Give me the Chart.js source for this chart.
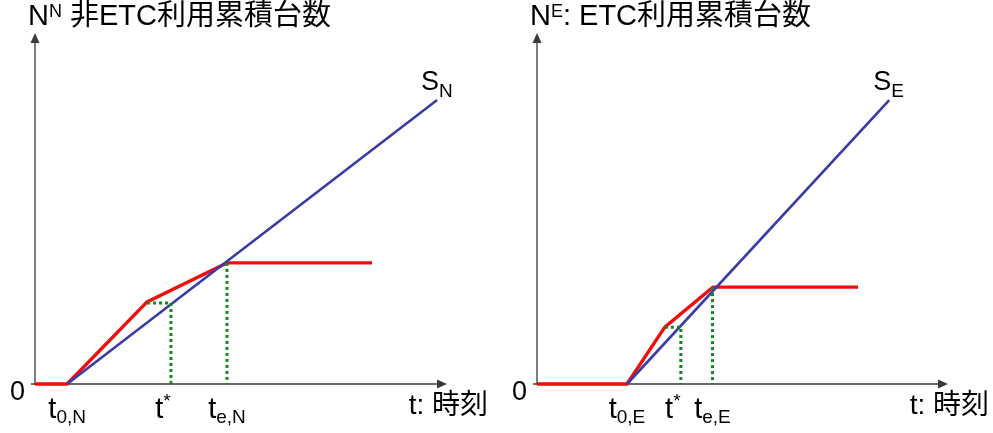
<!DOCTYPE html>
<html>
<head>
<meta charset="utf-8">
<script src="https://cdn.jsdelivr.net/npm/chart.js@4/dist/chart.umd.min.js"></script>
<style>
  html, body { margin: 0; padding: 0; background: #fff; }
  #wrap { position: relative; width: 993px; height: 433px; overflow: hidden; background: #fff; }
  #wrap canvas { position: absolute; top: 0; }
</style>
</head>
<body>
<div id="wrap">
  <canvas id="panelN" width="493" height="433" style="left:0px"></canvas>
  <canvas id="panelE" width="500" height="433" style="left:493px"></canvas>
</div>
<script>
// ---------- Non-ETC vehicles (N) ----------
const nonEtcTimes  = [0, 0.78, 2.72, 4.66, 8.18];
const nonEtcCounts = [0, 0, 2.34, 3.45, 3.45];
const supplyNTimes  = [0.78, 9.76];
const supplyNCounts = [0, 8.09];
const nonEtcStarGuideTimes  = [2.72, 3.30, 3.30];
const nonEtcStarGuideCounts = [2.31, 2.31, 0];
const nonEtcEndGuideTimes  = [4.66, 4.66];
const nonEtcEndGuideCounts = [3.45, 0];
const nonEtcTickValues = [0.78, 3.30, 4.66];
const nonEtcTickLabels = [
  { main: 't', sub: '0,N' },
  { main: 't', sup: '*' },
  { main: 't', sub: 'e,N' }
];
const nonEtcTitle = { main: 'N', sup: 'N', rest: ' 非ETC利用累積台数' };
const supplyNLabel = { main: 'S', sub: 'N' };

// ---------- ETC vehicles (E) ----------
const etcTimes  = [0, 2.19, 3.11, 4.28, 7.81];
const etcCounts = [0, 0, 1.62, 2.76, 2.76];
const supplyETimes  = [2.19, 8.57];
const supplyECounts = [0, 8.09];
const etcStarGuideTimes  = [3.11, 3.50, 3.50];
const etcStarGuideCounts = [1.62, 1.62, 0];
const etcEndGuideTimes  = [4.27, 4.27];
const etcEndGuideCounts = [2.76, 0];
const etcTickValues = [2.19, 3.50, 4.27];
const etcTickLabels = [
  { main: 't', sub: '0,E' },
  { main: 't', sup: '*' },
  { main: 't', sub: 'e,E' }
];
const etcTitle = { main: 'N', sup: 'E', rest: ': ETC利用累積台数' };
const supplyELabel = { main: 'S', sub: 'E' };

// Shared axis texts
const originLabel = '0';
const timeAxisLabel = 't: 時刻';

// ---------- styling ----------
const RED = '#f20d0d';
const BLUE = '#3b3ba6';
const GREEN = '#0f8a1f';
const AXIS = '#3a3a3a';
const FONT = "'Liberation Sans', 'Noto Sans CJK JP', sans-serif";

function toPoints(xs, ys) {
  return xs.map((x, i) => ({ x: x, y: ys[i] }));
}

// Text runs made of main / subscript / superscript pieces.
function measureRich(ctx, pieces) {
  let w = 0;
  for (const p of pieces) {
    ctx.font = p.size + 'px ' + FONT;
    w += ctx.measureText(p.text).width;
  }
  return w;
}
function drawRich(ctx, x, y, pieces) {
  let cx = x;
  ctx.textBaseline = 'alphabetic';
  ctx.textAlign = 'left';
  for (const p of pieces) {
    ctx.font = p.size + 'px ' + FONT;
    ctx.fillText(p.text, cx, y + (p.dy || 0));
    cx += ctx.measureText(p.text).width;
  }
}
function labelPieces(lbl, mainSize, subSize, subDy, supSize, supDy) {
  const pieces = [{ text: lbl.main, size: mainSize }];
  if (lbl.sub) pieces.push({ text: lbl.sub, size: subSize, dy: subDy });
  if (lbl.sup) pieces.push({ text: lbl.sup, size: supSize, dy: supDy });
  return pieces;
}

function panelDecorations(cfg) {
  return {
    id: 'panelDecorations',
    beforeDatasetsDraw(chart) {
      const ctx = chart.ctx;
      const xs = chart.scales.x, ys = chart.scales.y;
      const x0 = xs.getPixelForValue(0), x1 = xs.getPixelForValue(xs.max);
      const y0 = ys.getPixelForValue(0), y1 = ys.getPixelForValue(ys.max);
      ctx.save();
      ctx.strokeStyle = AXIS;
      ctx.fillStyle = AXIS;
      ctx.lineWidth = 1.3;
      // time axis with arrow head
      ctx.beginPath();
      ctx.moveTo(x0 - 4, y0);
      ctx.lineTo(x1 - 8, y0);
      ctx.stroke();
      ctx.beginPath();
      ctx.moveTo(x1, y0);
      ctx.lineTo(x1 - 10, y0 - 4.5);
      ctx.lineTo(x1 - 10, y0 + 4.5);
      ctx.closePath();
      ctx.fill();
      // count axis with arrow head
      ctx.beginPath();
      ctx.moveTo(x0, y0 + 1);
      ctx.lineTo(x0, y1 + 8);
      ctx.stroke();
      ctx.beginPath();
      ctx.moveTo(x0, y1);
      ctx.lineTo(x0 - 4.5, y1 + 10);
      ctx.lineTo(x0 + 4.5, y1 + 10);
      ctx.closePath();
      ctx.fill();
      ctx.restore();
    },
    afterDraw(chart) {
      const ctx = chart.ctx;
      const xs = chart.scales.x, ys = chart.scales.y;
      const x0 = xs.getPixelForValue(0), x1 = xs.getPixelForValue(xs.max);
      const y0 = ys.getPixelForValue(0);
      ctx.save();
      ctx.fillStyle = '#000';

      // origin
      ctx.font = '27px ' + FONT;
      ctx.textAlign = 'right';
      ctx.textBaseline = 'alphabetic';
      ctx.fillText(originLabel, x0 - 10, y0 + 16);

      // time marks under the axis
      cfg.tickValues.forEach((v, i) => {
        const lbl = cfg.tickLabels[i];
        const pieces = labelPieces(lbl, 29, 19, 5, 19, -11);
        const w = measureRich(ctx, pieces);
        let px = xs.getPixelForValue(v) - w / 2;
        if (lbl.sup) px -= 8;
        drawRich(ctx, px, y0 + 34, pieces);
      });

      // axis name
      ctx.font = '28px ' + FONT;
      ctx.textAlign = 'right';
      ctx.textBaseline = 'alphabetic';
      ctx.fillText(timeAxisLabel, x1 + 41, y0 + 30);

      // supply curve name at the end of its line
      const endX = xs.getPixelForValue(cfg.supplyTimes[cfg.supplyTimes.length - 1]);
      const endY = ys.getPixelForValue(cfg.supplyCounts[cfg.supplyCounts.length - 1]);
      drawRich(ctx, endX - 16, endY - 10, labelPieces(cfg.supplyLabel, 27, 19, 7, 19, -9));

      // panel title
      drawRich(ctx, x0 - 7, 25, [
        { text: cfg.title.main, size: 29 },
        { text: cfg.title.sup, size: 18, dy: -8 },
        { text: cfg.title.rest, size: 29 }
      ]);
      ctx.restore();
    }
  };
}

function makePanel(canvasId, cfg) {
  const common = { showLine: true, pointRadius: 0, pointHoverRadius: 0, tension: 0, clip: false, fill: false };
  return new Chart(document.getElementById(canvasId), {
    type: 'scatter',
    data: {
      datasets: [
        Object.assign({ data: toPoints(cfg.starGuideTimes, cfg.starGuideCounts), borderColor: GREEN, borderWidth: 3, borderDash: [3, 3], borderCapStyle: 'butt', order: 0 }, common),
        Object.assign({ data: toPoints(cfg.endGuideTimes, cfg.endGuideCounts), borderColor: GREEN, borderWidth: 3, borderDash: [3, 3], borderCapStyle: 'butt', order: 0 }, common),
        Object.assign({ data: toPoints(cfg.supplyTimes, cfg.supplyCounts), borderColor: BLUE, borderWidth: 2.6, order: 1 }, common),
        Object.assign({ data: toPoints(cfg.times, cfg.counts), borderColor: RED, borderWidth: 3.4, borderJoinStyle: 'miter', order: 2 }, common)
      ]
    },
    options: {
      responsive: false,
      animation: false,
      events: [],
      layout: { padding: cfg.padding, autoPadding: false },
      plugins: { legend: { display: false }, tooltip: { enabled: false }, title: { display: false } },
      scales: {
        x: { type: 'linear', min: 0, max: 10, display: false },
        y: { type: 'linear', min: 0, max: 10, display: false }
      }
    },
    plugins: [panelDecorations(cfg)]
  });
}

makePanel('panelN', {
  times: nonEtcTimes, counts: nonEtcCounts,
  supplyTimes: supplyNTimes, supplyCounts: supplyNCounts,
  starGuideTimes: nonEtcStarGuideTimes, starGuideCounts: nonEtcStarGuideCounts,
  endGuideTimes: nonEtcEndGuideTimes, endGuideCounts: nonEtcEndGuideCounts,
  tickValues: nonEtcTickValues, tickLabels: nonEtcTickLabels,
  title: nonEtcTitle, supplyLabel: supplyNLabel,
  padding: { left: 35, right: 46, top: 33, bottom: 49 }
});

makePanel('panelE', {
  times: etcTimes, counts: etcCounts,
  supplyTimes: supplyETimes, supplyCounts: supplyECounts,
  starGuideTimes: etcStarGuideTimes, starGuideCounts: etcStarGuideCounts,
  endGuideTimes: etcEndGuideTimes, endGuideCounts: etcEndGuideCounts,
  tickValues: etcTickValues, tickLabels: etcTickLabels,
  title: etcTitle, supplyLabel: supplyELabel,
  padding: { left: 44, right: 45, top: 33, bottom: 49 }
});
</script>
</body>
</html>
